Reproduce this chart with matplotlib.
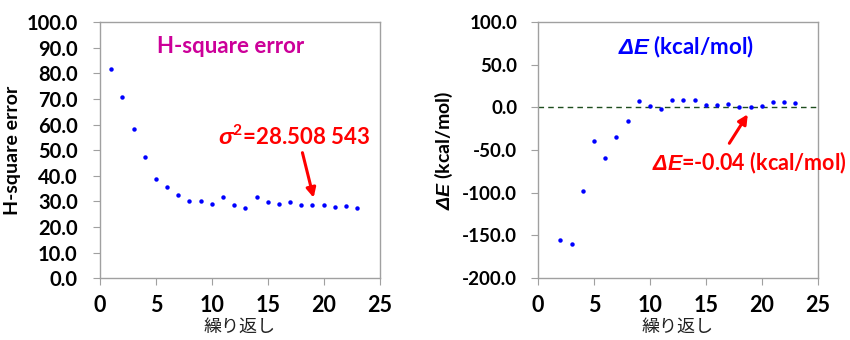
import matplotlib
matplotlib.use("Agg")
import matplotlib.pyplot as plt

# datos
iter_h = list(range(1, 24))
h_err = [81.6, 70.6, 58.1, 47.4, 38.6, 35.4, 32.6, 30.3, 30.2, 29.1, 31.7, 28.5,
         27.5, 31.7, 29.6, 29.0, 29.9, 28.6, 28.5, 28.5, 27.9, 28.2, 27.3]

iter_e = list(range(2, 24))
d_e = [-155.9, -159.8, -97.9, -39.2, -58.8, -34.9, -16.1, 7.1, 1.6, -1.6, 8.6,
       8.6, 8.2, 2.7, 2.7, 3.5, 0.0, -0.04, 2.0, 5.9, 6.3, 4.7]

h_ticks = [0, 10, 20, 30, 40, 50, 60, 70, 80, 90, 100]
e_ticks = [-200, -150, -100, -50, 0, 50, 100]
x_ticks = [0, 5, 10, 15, 20, 25]

plt.rcParams['font.family'] = ['Lato', 'DejaVu Sans']
plt.rcParams['mathtext.fontset'] = 'custom'
plt.rcParams['mathtext.bfit'] = 'Liberation Sans:italic:bold'
plt.rcParams['mathtext.it'] = 'Liberation Sans:italic:bold'
plt.rcParams['mathtext.rm'] = 'Lato:bold'
plt.rcParams['mathtext.bf'] = 'Lato:bold'

fig = plt.figure(figsize=(8.5, 3.4), dpi=100)
ax1 = fig.add_axes([0.1176, 0.182, 0.329, 0.753])
ax2 = fig.add_axes([0.633, 0.182, 0.329, 0.753])

jp = ['Noto Sans CJK JP', 'DejaVu Sans']

def estilo(ax, ticks, lim, ysize, ypad):
    ax.set_xlim(0, 25)
    ax.set_ylim(*lim)
    ax.set_xticks(x_ticks)
    ax.set_yticks(ticks)
    ax.set_yticklabels(['%.1f' % t for t in ticks])
    for s in ax.spines.values():
        s.set_color('#a0a0a0')
        s.set_linewidth(1.0)
    ax.tick_params(direction='out', length=5, color='#a0a0a0')
    ax.tick_params(axis='x', labelsize=15.5, pad=7)
    ax.tick_params(axis='y', labelsize=ysize, pad=ypad)
    for lab in ax.get_xticklabels() + ax.get_yticklabels():
        lab.set_fontweight('bold')
    ax.set_xlabel('繰り返し', family=jp, fontsize=13, color='#222222', labelpad=1.5)

flecha = dict(arrowstyle='-|>', color='#ff0000', lw=2.2, mutation_scale=14, shrinkA=0, shrinkB=0)

# panel izquierdo
ax1.plot(iter_h, h_err, 'o', color='#0000ff', markersize=3.2, markeredgewidth=0)
estilo(ax1, h_ticks, (0, 100), 14.5, 11)
ax1.set_ylabel('H-square error', fontsize=14, fontweight='bold', labelpad=4)
ax1.text(0.468, 0.905, 'H-square error', transform=ax1.transAxes, ha='center', va='center',
         color='#cc0099', fontsize=16, fontweight='bold')
ax1.text(17.4, 55, r'$\mathbfit{\sigma}^{\mathbf{2}}$=28.508 543', color='#ff0000', fontsize=16,
         fontweight='bold', ha='center', va='center')
ax1.annotate('', xy=(19.1, 31.4), xytext=(18.1, 49), arrowprops=flecha)

# panel derecho
ax2.axhline(0, color='#1e4d1e', lw=1.0, ls=(0, (4, 3)))
ax2.plot(iter_e, d_e, 'o', color='#0000ff', markersize=3.2, markeredgewidth=0)
estilo(ax2, e_ticks, (-200, 100), 13.5, 10)
ax2.set_ylabel(r'$\mathbfit{\Delta E}$ (kcal/mol)', fontsize=14, fontweight='bold', labelpad=5)
ax2.text(0.53, 0.905, r'$\mathbfit{\Delta E}$ (kcal/mol)', transform=ax2.transAxes, ha='center',
         va='center', color='#0000ff', fontsize=16, fontweight='bold')
ax2.text(10.2, -65, r'$\mathbfit{\Delta E}$=-0.04 (kcal/mol)', color='#ff0000', fontsize=15.5,
         fontweight='bold', ha='left', va='center')
ax2.annotate('', xy=(18.75, -8), xytext=(17.1, -42), arrowprops=flecha)

fig.savefig('out.png', dpi=100)
